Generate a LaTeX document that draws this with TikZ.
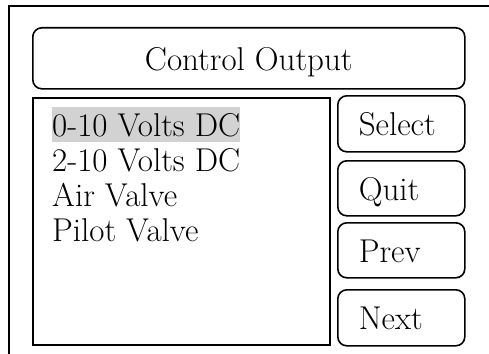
\documentclass[tikz,border=0pt]{standalone}
\usepackage{fontspec}
\usepackage{tikz}

\begin{document}
\begin{tikzpicture}[x=1pt, y=-1pt,
    panel/.style={draw, line width=1.6pt, rounded corners=9pt, anchor=north west,
        inner sep=0pt, text height=24pt, text depth=0pt},
    button/.style={panel, minimum width=127pt, minimum height=56pt,
        text width=85pt, align=left, inner xsep=21pt},
    item/.style={anchor=base west, inner sep=0pt}]
    \useasboundingbox (0,0) rectangle (489,353);
    \fontsize{33}{35}\selectfont
    \draw[line width=2.8pt] (9,360) -- (9,6) -- (500,6);
    \node[panel, minimum width=432pt, minimum height=61pt] (title) at (32,27) {Control Output};
    \node[draw, line width=1.6pt, anchor=north west, minimum width=297pt, minimum height=247pt] (list) at (32,97) {};
    \node[item, fill=gray!35, text height=30pt, text depth=5pt] (volts0) at (52,136.7) {0-10 Volts DC};
    \node[item] (volts2) at (52,171) {2-10 Volts DC};
    \node[item] (air) at (52,206) {Air Valve};
    \node[item] (pilot) at (52,241) {Pilot Valve};
    \node[button] (select) at (337,95) {Select};
    \node[button, minimum height=55pt] (quit) at (337,160) {Quit};
    \node[button, minimum height=55pt] (prev) at (337,222) {Prev};
    \node[button] (next) at (337,289) {Next};
\end{tikzpicture}
\end{document}
